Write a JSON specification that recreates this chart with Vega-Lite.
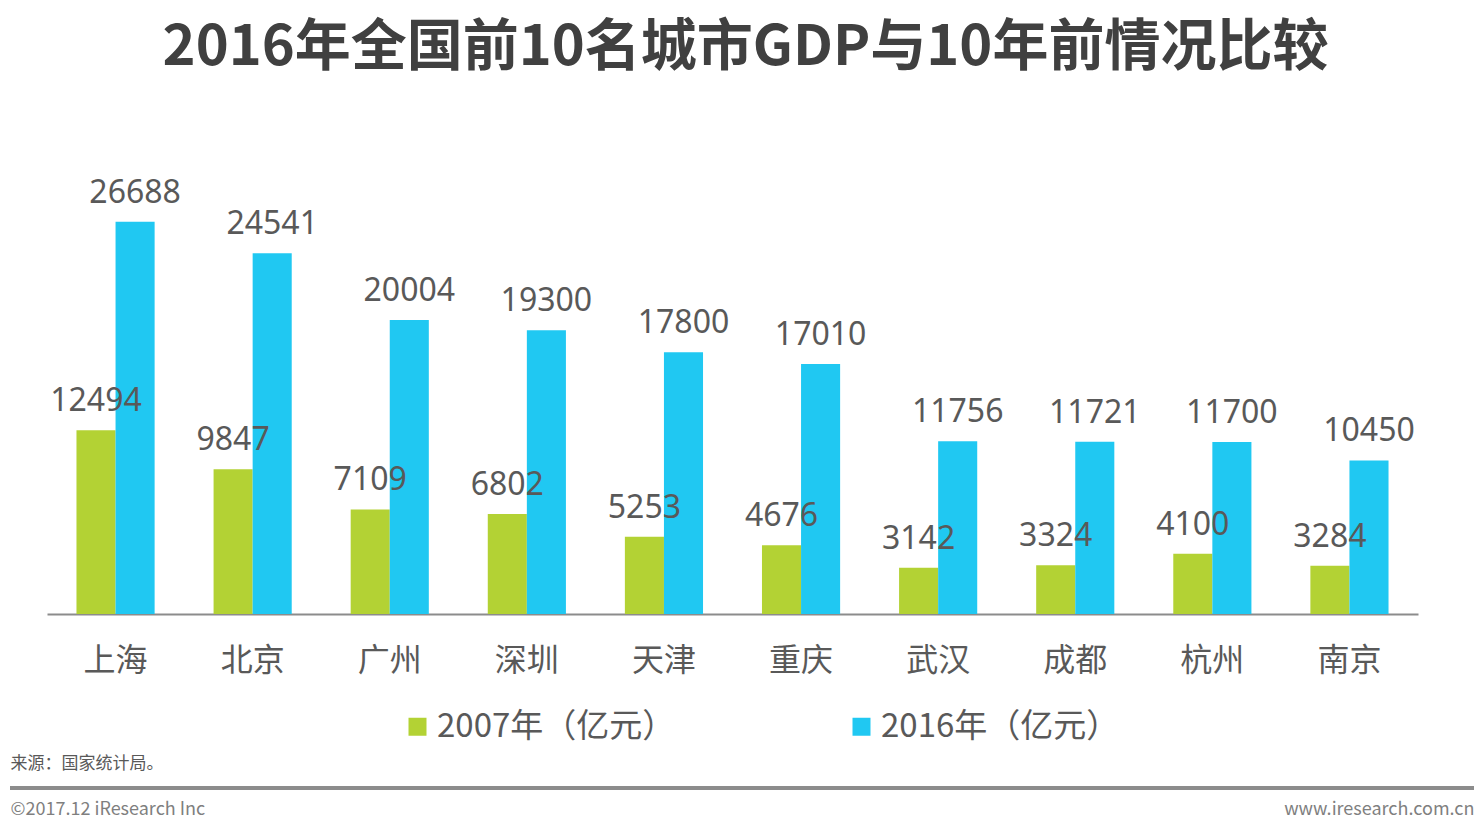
{
  "$schema": "https://vega.github.io/schema/vega-lite/v6.json",
  "width": 1371,
  "height": 441,
  "autosize": {"type": "none"},
  "padding": {"left": 47, "top": 173, "right": 66, "bottom": 210},
  "background": "white",
  "config": {
    "view": {"stroke": null},
    "font": "Noto Sans CJK SC"
  },
  "title": {
    "text": "2016年全国前10名城市GDP与10年前情况比较",
    "fontSize": 56,
    "fontWeight": "bold",
    "color": "#404040",
    "font": "Noto Sans CJK SC",
    "anchor": "middle",
    "offset": 96,
    "dx": 13
  },
  "data": {
    "values": [
      {"city": "上海", "year": "2007年（亿元）", "value": 12494},
      {"city": "上海", "year": "2016年（亿元）", "value": 26688},
      {"city": "北京", "year": "2007年（亿元）", "value": 9847},
      {"city": "北京", "year": "2016年（亿元）", "value": 24541},
      {"city": "广州", "year": "2007年（亿元）", "value": 7109},
      {"city": "广州", "year": "2016年（亿元）", "value": 20004},
      {"city": "深圳", "year": "2007年（亿元）", "value": 6802},
      {"city": "深圳", "year": "2016年（亿元）", "value": 19300},
      {"city": "天津", "year": "2007年（亿元）", "value": 5253},
      {"city": "天津", "year": "2016年（亿元）", "value": 17800},
      {"city": "重庆", "year": "2007年（亿元）", "value": 4676},
      {"city": "重庆", "year": "2016年（亿元）", "value": 17010},
      {"city": "武汉", "year": "2007年（亿元）", "value": 3142},
      {"city": "武汉", "year": "2016年（亿元）", "value": 11756},
      {"city": "成都", "year": "2007年（亿元）", "value": 3324},
      {"city": "成都", "year": "2016年（亿元）", "value": 11721},
      {"city": "杭州", "year": "2007年（亿元）", "value": 4100},
      {"city": "杭州", "year": "2016年（亿元）", "value": 11700},
      {"city": "南京", "year": "2007年（亿元）", "value": 3284},
      {"city": "南京", "year": "2016年（亿元）", "value": 10450}
    ]
  },
  "layer": [
    {
      "encoding": {
        "x": {
          "field": "city",
          "type": "nominal",
          "sort": null,
          "scale": {"paddingInner": 0.43, "paddingOuter": 0.215},
          "axis": {
            "title": "来源：国家统计局。",
            "titleX": -37,
            "titleY": 154,
            "titleAlign": "left",
            "titleAnchor": null,
            "titleBaseline": "alphabetic",
            "titleFontSize": 17,
            "titleFontWeight": "normal",
            "titleColor": "#595959",
            "labelAngle": 0,
            "labelFontSize": 32,
            "labelColor": "#595959",
            "labelPadding": 31,
            "ticks": false,
            "domainColor": "#8c8c8c",
            "domainWidth": 2,
            "grid": false
          }
        },
        "xOffset": {
          "field": "year",
          "type": "nominal",
          "scale": {"paddingInner": 0, "paddingOuter": 0}
        },
        "y": {
          "field": "value",
          "type": "quantitative",
          "scale": {"domain": [0, 30000]},
          "axis": {
            "orient": "left",
            "domain": false,
            "labels": false,
            "ticks": false,
            "grid": false,
            "title": "©2017.12 iResearch Inc",
            "titleAngle": 0,
            "titleX": -37,
            "titleY": 641,
            "titleAlign": "left",
            "titleBaseline": "alphabetic",
            "titleFontSize": 18,
            "titleFontWeight": "normal",
            "titleColor": "#7f7f7f"
          }
        }
      },
      "layer": [
        {
          "mark": {"type": "bar"},
          "encoding": {
            "color": {
              "field": "year",
              "type": "nominal",
              "scale": {"range": ["#b3d234", "#20c8f2"]},
              "legend": {
                "title": null,
                "orient": "none",
                "direction": "horizontal",
                "legendX": 354,
                "legendY": 537,
                "symbolType": "square",
                "symbolSize": 324,
                "symbolStrokeWidth": 0,
                "labelFontSize": 33,
                "labelColor": "#595959",
                "labelOffset": 3,
                "labelLimit": 400,
                "columnPadding": 169
              }
            }
          }
        },
        {
          "mark": {"type": "text", "fontSize": 32, "color": "#595959", "baseline": "alphabetic", "dy": -19, "font": "Noto Sans"},
          "encoding": {
            "text": {"field": "value", "type": "quantitative", "format": "d"}
          }
        }
      ]
    },
    {
      "mark": {"type": "rule", "color": "#8c8c8c", "strokeWidth": 3},
      "encoding": {
        "x": {"datum": 0, "type": "quantitative", "scale": {"domain": [0, 1], "range": [-37, 1427]}, "axis": null},
        "x2": {"datum": 1},
        "y": {
          "datum": -11837,
          "type": "quantitative",
          "scale": {"domain": [0, 30000]},
          "axis": {
            "orient": "right",
            "domain": false,
            "labels": false,
            "ticks": false,
            "grid": false,
            "title": "www.iresearch.com.cn",
            "titleAngle": 0,
            "titleX": 56,
            "titleY": 641,
            "titleAlign": "right",
            "titleBaseline": "alphabetic",
            "titleFontSize": 18,
            "titleFontWeight": "normal",
            "titleColor": "#7f7f7f"
          }
        }
      }
    }
  ],
  "resolve": {"scale": {"x": "independent", "y": "independent"}, "axis": {"y": "independent", "x": "independent"}}
}
